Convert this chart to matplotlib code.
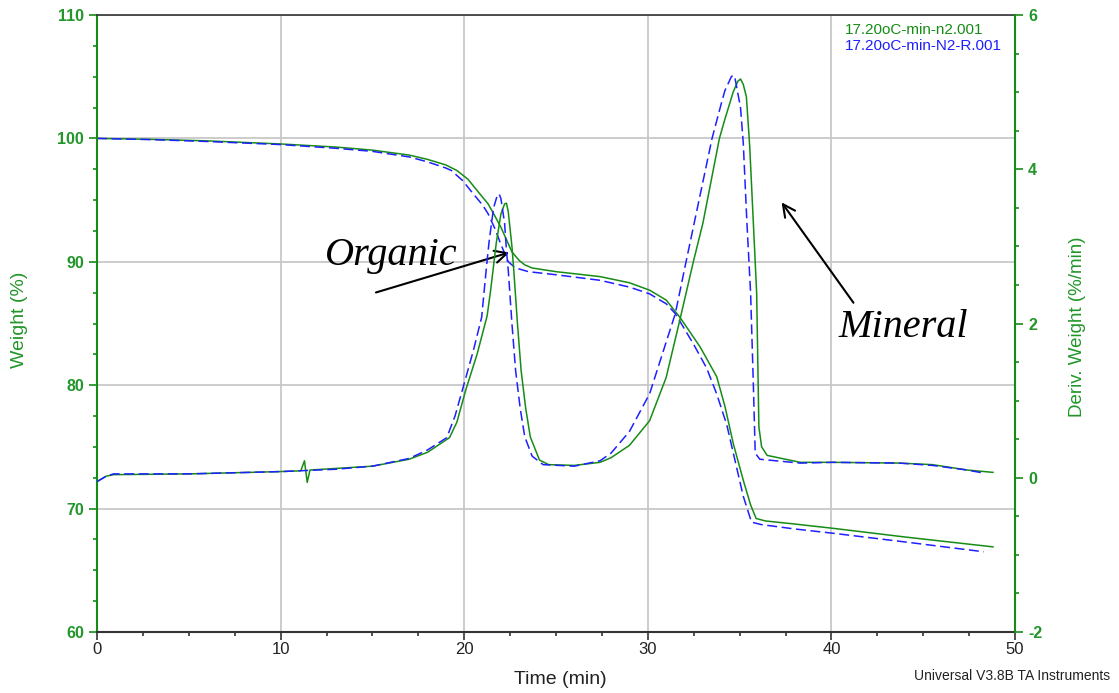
import matplotlib
matplotlib.use("Agg")
import matplotlib.pyplot as plt
from matplotlib.ticker import MultipleLocator

plt.rcParams['font.family'] = ['Liberation Sans', 'DejaVu Sans']
plt.rcParams['axes.unicode_minus'] = False

# weight curve, run n2.001 (green)
t_wt_a = [0, 3, 6, 10, 13, 15, 17, 18, 19, 19.6, 20.2, 20.8, 21.3, 21.6, 22.0, 22.3, 22.6,
          23.0, 23.3, 23.7, 25.0, 27.4, 29.0, 30.1, 31.0, 31.75, 32.85, 33.75, 34.2, 34.65,
          35.2, 35.6, 35.9, 36.4, 38.0, 40.1, 44.0, 48.8]
wt_a = [100.0, 99.92, 99.8, 99.55, 99.3, 99.05, 98.65, 98.3, 97.85, 97.4, 96.7, 95.6, 94.7,
        93.9, 92.8, 91.8, 90.8, 90.1, 89.75, 89.5, 89.2, 88.8, 88.3, 87.7, 86.9, 85.5, 83.1,
        80.7, 78.3, 75.3, 72.3, 70.3, 69.2, 69.0, 68.75, 68.4, 67.7, 66.9]

# weight curve, run N2-R.001 (blue)
t_wt_b = [0, 3, 6, 10, 13, 15, 17, 18, 19, 19.3, 19.9, 20.5, 21.0, 21.3, 21.7, 22.0, 22.4,
          22.8, 23.5, 25.0, 27.4, 29.0, 30.1, 31.0, 31.5, 32.5, 33.2, 33.75, 34.3, 34.75,
          35.2, 35.65, 36.2, 38.0, 40.1, 44.0, 48.3]
wt_b = [100.0, 99.9, 99.75, 99.5, 99.2, 98.95, 98.5, 98.1, 97.6, 97.4, 96.6, 95.5, 94.6,
        93.9, 92.6, 91.4, 90.0, 89.5, 89.2, 88.95, 88.5, 87.95, 87.4, 86.6, 85.8, 83.3,
        81.4, 79.3, 76.8, 73.9, 71.0, 68.9, 68.7, 68.35, 68.0, 67.3, 66.5]

# derivative curve, run n2.001 (green)
t_dw_a = [0, 0.5, 0.9, 5, 10, 11.1, 11.3, 11.45, 11.6, 15, 17, 18, 19.2, 19.6, 20.1, 20.7,
          21.25, 21.45, 21.75, 22.0, 22.2, 22.3, 22.4, 22.6, 22.7, 22.9, 23.1, 23.35, 23.6,
          24.1, 24.6, 26.0, 27.4, 28.0, 29.0, 30.1, 31.0, 31.75, 32.5, 33.0, 33.9, 34.2,
          34.65, 34.9, 35.05, 35.2, 35.37, 35.55, 35.75, 35.93, 36.05, 36.2, 36.5, 38.3,
          40.1, 43.7, 45.5, 47.4, 48.8]
dw_a = [-0.05, 0.02, 0.04, 0.05, 0.08, 0.09, 0.22, -0.06, 0.1, 0.15, 0.24, 0.33, 0.52, 0.72,
        1.15, 1.6, 2.1, 2.45, 3.05, 3.42, 3.55, 3.56, 3.45, 3.0, 2.69, 2.0, 1.39, 0.9, 0.53,
        0.23, 0.17, 0.16, 0.2, 0.26, 0.42, 0.74, 1.3, 2.05, 2.82, 3.3, 4.4, 4.65, 5.0, 5.14,
        5.17, 5.1, 4.94, 4.3, 3.3, 2.39, 0.66, 0.4, 0.29, 0.2, 0.2, 0.19, 0.17, 0.1, 0.07]

# derivative curve, run N2-R.001 (blue)
t_dw_b = [0, 0.5, 0.9, 5, 10, 13, 15, 17, 18, 19.05, 19.5, 19.95, 20.5, 20.95, 21.2, 21.35,
          21.6, 21.8, 21.9, 22.0, 22.2, 22.3, 22.4, 22.6, 22.8, 23.05, 23.3, 23.7, 24.3,
          26.0, 27.4, 28.0, 29.0, 30.1, 31.5, 32.1, 33.5, 34.0, 34.2, 34.55, 34.65, 34.75,
          35.05, 35.2, 35.4, 35.6, 35.75, 35.85, 36.1, 38.3, 40.1, 43.7, 45.5, 47.4, 48.3]
dw_b = [-0.05, 0.02, 0.05, 0.05, 0.08, 0.11, 0.15, 0.25, 0.36, 0.52, 0.8, 1.18, 1.65, 2.08,
        2.7, 3.05, 3.5, 3.66, 3.68, 3.62, 3.3, 2.95, 2.69, 2.0, 1.39, 0.9, 0.53, 0.28, 0.17,
        0.15, 0.22, 0.32, 0.6, 1.09, 2.13, 2.82, 4.4, 4.85, 5.02, 5.2, 5.22, 5.18, 4.8, 4.34,
        3.3, 2.39, 1.2, 0.32, 0.24, 0.19, 0.2, 0.19, 0.16, 0.1, 0.06]

run_names = ["17.20oC-min-n2.001", "17.20oC-min-N2-R.001"]

green = "#168c16"
blue = "#1f1fff"
txt_green = "#22962a"

fig = plt.figure(figsize=(11.19, 6.93), dpi=100)
ax = fig.add_axes([97 / 1119, 1 - 632 / 693, 918 / 1119, 617 / 693])
ax2 = ax.twinx()

ax.plot(t_wt_a, wt_a, color=green, lw=1.1)
ax.plot(t_wt_b, wt_b, color=blue, lw=1.1, dashes=(6.5, 3))
ax2.plot(t_dw_a, dw_a, color=green, lw=1.1)
ax2.plot(t_dw_b, dw_b, color=blue, lw=1.1, dashes=(6.5, 3))

ax.set_xlim(0, 50)
ax.set_ylim(60, 110)
ax2.set_ylim(-2, 6)
ax.set_xticks(range(0, 51, 10))
ax.set_yticks(range(60, 111, 10))
ax2.set_yticks([-2, 0, 2, 4, 6])
ax.xaxis.set_minor_locator(MultipleLocator(2.5))
ax.yaxis.set_minor_locator(MultipleLocator(2.5))
ax2.yaxis.set_minor_locator(MultipleLocator(0.5))

ax.grid(True, which='major', color='#c8c8c8', lw=1.3)
ax.set_axisbelow(True)

ax.tick_params(axis='x', which='major', length=5.5, width=1.2, color='#333333',
               labelsize=12, labelcolor='#222222', pad=2)
ax.tick_params(axis='x', which='minor', length=3, width=1.2, color='#333333')
ax.tick_params(axis='y', which='major', length=5.5, width=1.2, color=green,
               labelsize=11.5, labelcolor=txt_green, pad=4)
ax.tick_params(axis='y', which='minor', length=3, width=1.2, color=green)
ax2.tick_params(axis='y', which='major', length=5.5, width=1.2, color=green,
                labelsize=11.5, labelcolor=txt_green, pad=4)
ax2.tick_params(axis='y', which='minor', length=3, width=1.2, color=green)
for lab in ax.get_yticklabels() + ax2.get_yticklabels():
    lab.set_fontweight('bold')

ax.spines['left'].set_color(green)
ax.spines['left'].set_linewidth(1.5)
ax.spines['right'].set_visible(False)
ax.spines['top'].set_color('#333333')
ax.spines['bottom'].set_color('#333333')
ax.spines['top'].set_linewidth(1.2)
ax.spines['bottom'].set_linewidth(1.5)
ax2.spines['right'].set_color(green)
ax2.spines['right'].set_linewidth(1.5)
for s in ['left', 'top', 'bottom']:
    ax2.spines[s].set_visible(False)

fig.text(20 / 1119, 1 - 320 / 693, "Weight (%)", rotation=90, ha='center', va='center',
         fontsize=14, color=txt_green)
fig.text(1077 / 1119, 1 - 327 / 693, "Deriv. Weight (%/min)", rotation=90, ha='center',
         va='center', fontsize=13.5, color=txt_green)
fig.text(560 / 1119, 1 - 680 / 693, "Time (min)", ha='center', va='center', fontsize=14,
         color='#222222')
fig.text(1110 / 1119, 1 - 676 / 693, "Universal V3.8B TA Instruments", ha='right',
         va='center', fontsize=10, color='#222222')

fig.text(845 / 1119, 1 - 30 / 693, run_names[0], ha='left', va='center', fontsize=11,
         color=green)
fig.text(845 / 1119, 1 - 46 / 693, run_names[1], ha='left', va='center', fontsize=11,
         color=blue)

ax.text(12.42, 89.74, "Organic", fontsize=29, family='Liberation Serif', style='italic',
        va='baseline', ha='left')
ax.text(40.36, 83.93, "Mineral", fontsize=29, family='Liberation Serif', style='italic',
        va='baseline', ha='left')
ax.annotate("", xy=(22.6, 90.82), xytext=(15.05, 87.45),
            arrowprops=dict(arrowstyle='->', color='black', lw=1.5, mutation_scale=22))
ax.annotate("", xy=(37.2, 95.0), xytext=(41.29, 86.5),
            arrowprops=dict(arrowstyle='->', color='black', lw=1.5, mutation_scale=22))

fig.savefig("out.png", dpi=100)
